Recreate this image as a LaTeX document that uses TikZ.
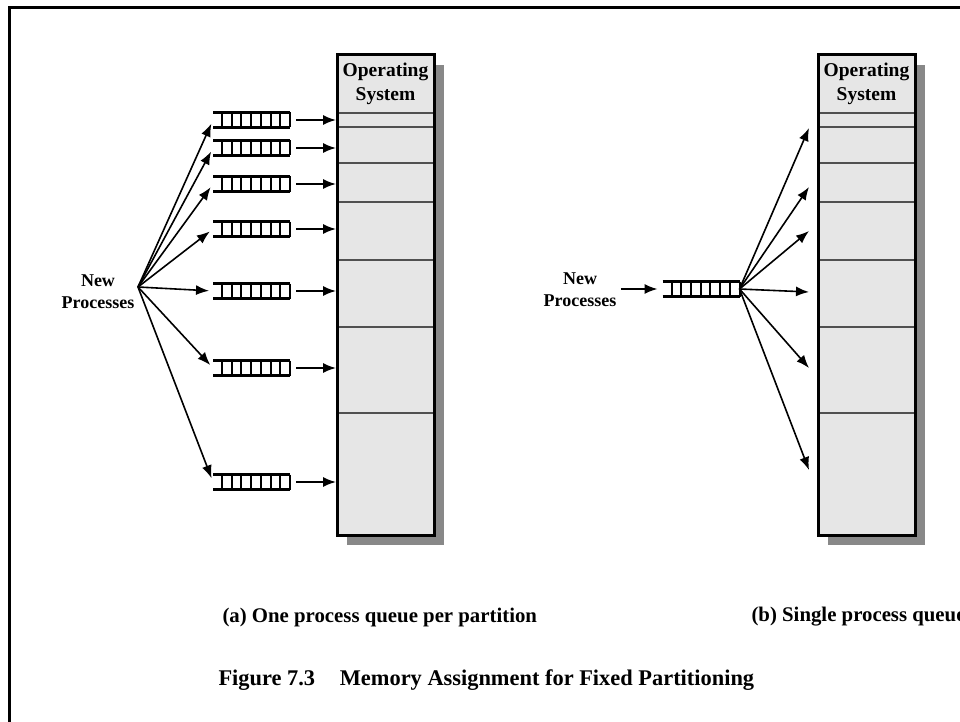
\documentclass[tikz,border=0pt]{standalone}
\usepackage{fontspec}
\setmainfont{Liberation Serif}
\usetikzlibrary{arrows.meta,calc}
\definecolor{memfill}{HTML}{E6E6E6}
\definecolor{shadowgray}{HTML}{888888}
\definecolor{partgray}{HTML}{505050}
\newcommand\qladder[1]{%
  \draw[qhline] (#1.north west) -- (#1.north east) (#1.south west) -- (#1.south east);
  \foreach \k in {0,...,7}
    \draw[qvline] ($(#1.north west)+(9+\k*9.714,0)$) -- ($(#1.south west)+(9+\k*9.714,0)$);}
\begin{document}
\begin{tikzpicture}[x=1pt,y=-1pt,
  part/.style={rectangle,fill=memfill,draw=partgray,line width=1.5pt,
    minimum width=97pt,inner sep=0pt,outer sep=0pt},
  ospart/.style={part,minimum height=58pt,align=center,
    font=\fontsize{19.5}{24}\selectfont\bfseries},
  border/.style={draw=black,line width=3pt},
  queue/.style={rectangle,minimum width=77pt,minimum height=15pt,inner sep=0pt,outer sep=0pt},
  qhline/.style={line width=2.6pt},
  qvline/.style={line width=2pt},
  arr/.style={-{Latex[length=13pt,width=10pt]},line width=1.6pt},
  label/.style={align=center,font=\fontsize{18}{22}\selectfont\bfseries},
  subcap/.style={anchor=west,font=\fontsize{20.8}{22}\selectfont\bfseries},
  figcap/.style={anchor=west,font=\fontsize{22.4}{26}\selectfont\bfseries}]
\useasboundingbox (0,0) rectangle (960,722);

% page frame (left and top edges)
\draw[line width=3pt] (9.5,730) -- (9.5,7.5) -- (970,7.5);

% memory columns with their drop shadows
\foreach \c/\x in {a/385.5,b/866.5} {
  \fill[shadowgray] (\x-38.5,65) rectangle (\x+58.5,545);
  \node[ospart] (p\c0) at (\x,84) {Operating\\System};
  \foreach \i/\yc/\h in {1/120/14,2/145/36,3/182.5/39,4/231/58,5/293.5/67,6/370/86,7/474/122}
    \node[part,minimum height=\h pt] (p\c\i) at (\x,\yc) {};
  \draw[border] (p\c0.north west) rectangle (p\c7.south east);
}

% (a) one queue per partition
\coordinate (srca) at (138,287);
\node[label] (npa) at (98,292) {New\\Processes};
\foreach \i/\y in {1/120,2/148,3/184,4/229,5/291,6/368,7/482} {
  \node[queue] (qa\i) at (251.5,\y) {};
  \qladder{qa\i}
  \draw[arr,shorten >=4pt] (srca) -- (qa\i.west);
  \draw[arr,shorten <=6pt,shorten >=1pt] (qa\i.east) -- (qa\i.east -| pa0.west);
}

% (b) single queue for all partitions
\node[label] (npb) at (580,290) {New\\Processes};
\node[queue] (qb) at (701,289) {};
\qladder{qb}
\draw[arr,shorten <=1pt,shorten >=5pt] (npb.east |- qb.west) -- (qb.west);
\foreach \j/\y in {1/128,2/187,3/231,4/292,5/368,6/470} {
  \coordinate (tb\j) at (809,\y);
  \draw[arr] (qb.east) -- (tb\j);
}

% captions
\node[subcap] (capa) at (219,617) {(a) One process queue per partition};
\node[subcap] (capb) at (748,617) {(b) Single process queue};
\node[figcap] (fig) at (215,680) {Figure 7.3\hspace{1.1em}Memory Assignment for Fixed Partitioning};
\end{tikzpicture}
\end{document}
